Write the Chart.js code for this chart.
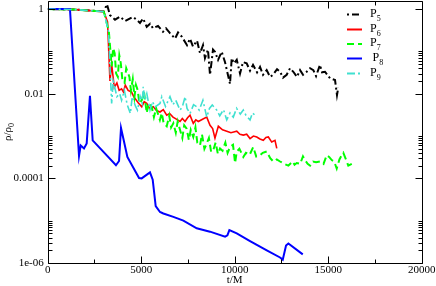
<!DOCTYPE html>
<html><head><meta charset="utf-8">
<script src="https://cdn.jsdelivr.net/npm/chart.js@4.4.0/dist/chart.umd.min.js"></script>
<style>html,body{margin:0;padding:0;background:#fff;}</style>
</head><body>
<canvas id="c" width="436" height="286"></canvas>
<script>
// ---- data: [t/M, rho/rho0] ----
const seriesNames = ['5', '6', '7', '8', '9'];
const p5 = [[0,1],[1500,0.97],[3000,0.88],[3170,1.3],[3330,0.72],[3600,0.56],[3865,0.66],[4135,0.52],[4560,0.65],[4775,0.55],[4935,0.47],[5100,0.60],[5295,0.38],[5475,0.45],[5630,0.35],[5900,0.40],[6165,0.29],[6325,0.35],[6540,0.27],[6810,0.20],[6970,0.28],[7180,0.22],[7450,0.14],[7610,0.20],[7770,0.13],[7985,0.18],[8145,0.091],[8305,0.14],[8410,0.069],[8570,0.11],[8680,0.028],[8840,0.11],[8945,0.098],[9110,0.063],[9305,0.098],[9480,0.056],[9750,0.017],[9840,0.069],[9965,0.052],[10110,0.063],[10285,0.030],[10445,0.056],[10640,0.052],[10820,0.035],[10980,0.048],[11195,0.032],[11355,0.043],[11515,0.028],[11710,0.036],[11890,0.025],[12050,0.028],[12265,0.038],[12425,0.033],[12585,0.024],[12780,0.028],[12960,0.040],[13135,0.033],[13330,0.025],[13495,0.036],[13655,0.028],[13850,0.033],[14030,0.040],[14205,0.036],[14350,0.026],[14560,0.048],[14670,0.032],[14830,0.033],[15100,0.023],[15365,0.021],[15470,0.0093],[15540,0.014]];
const p6 = [[0,1],[1500,0.97],[3000,0.87],[3200,0.5],[3330,0.02],[3420,0.05],[3560,0.014],[3700,0.018],[3820,0.012],[3950,0.013],[4050,0.011],[4150,0.016],[4300,0.012],[4480,0.011],[4600,0.0085],[4850,0.006],[5030,0.0049],[5160,0.0065],[5295,0.0059],[5450,0.0045],[5650,0.0049],[5820,0.004],[6005,0.0037],[6180,0.0042],[6365,0.0031],[6520,0.0034],[6700,0.0028],[6880,0.0025],[7075,0.0022],[7200,0.0026],[7345,0.0022],[7480,0.0027],[7610,0.0031],[7785,0.002],[7920,0.0024],[8055,0.0022],[8280,0.0025],[8505,0.0028],[8680,0.0018],[8820,0.0015],[8945,0.00089],[9125,0.0017],[9350,0.0014],[9575,0.0013],[9800,0.0012],[10110,0.0013],[10280,0.0011],[10460,0.00105],[10640,0.0011],[10820,0.00087],[11000,0.001],[11180,0.00095],[11350,0.00085],[11530,0.00079],[11670,0.00092],[11800,0.00095],[11980,0.00072],[12155,0.00079],[12250,0.00051]];
const p7 = [[0,1],[1500,0.97],[3000,0.87],[3270,0.3],[3420,0.044],[3500,0.12],[3580,0.091],[3660,0.03],[3750,0.025],[3830,0.08],[3910,0.052],[4000,0.02],[4110,0.018],[4200,0.04],[4370,0.025],[4450,0.012],[4550,0.022],[4640,0.0085],[4720,0.016],[4815,0.012],[4900,0.006],[5030,0.007],[5150,0.011],[5295,0.0035],[5400,0.006],[5560,0.0049],[5680,0.0028],[5800,0.0045],[6000,0.0024],[6100,0.0035],[6200,0.002],[6365,0.0017],[6500,0.003],[6600,0.0016],[6720,0.002],[6850,0.0012],[6950,0.0022],[7075,0.0014],[7200,0.0009],[7300,0.0018],[7430,0.0015],[7550,0.0008],[7650,0.0014],[7785,0.00095],[7900,0.0016],[8000,0.0007],[8145,0.0006],[8250,0.0011],[8380,0.0005],[8500,0.00066],[8620,0.0009],[8740,0.00042],[8860,0.00047],[8980,0.0007],[9100,0.00038],[9215,0.00051],[9350,0.00045],[9500,0.0007],[9620,0.0004],[9750,0.00055],[9910,0.00062],[10020,0.00023],[10110,0.00043],[10250,0.0005],[10460,0.00032],[10600,0.0004],[10800,0.00036],[10990,0.00055],[11150,0.00033],[11350,0.00035],[11500,0.0004],[11710,0.00043],[11900,0.0003],[12065,0.00025],[12250,0.00028],[12425,0.00025],[12650,0.00022],[12870,0.0002],[13100,0.00025],[13200,0.00021],[13315,0.00023],[13500,0.00022],[13650,0.00033],[13760,0.00027],[13900,0.00022],[14030,0.0002],[14190,0.00025],[14350,0.00024],[14560,0.00025],[14750,0.00022],[14920,0.00035],[15050,0.00032],[15190,0.00027],[15320,0.00025],[15455,0.00017],[15600,0.00028],[15720,0.00035],[15810,0.0004],[15950,0.00028],[16075,0.0002],[16260,0.00022]];
const p8 = [[0,1],[1190,1],[1675,3.4e-4],[1765,6.0e-4],[1941,5.1e-4],[2085,6.7e-4],[2260,8.9e-3],[2405,7.9e-4],[3650,2.04e-4],[3815,2.57e-4],[3920,1.55e-3],[4045,8.7e-4],[4260,3.2e-4],[4885,1.02e-4],[5025,1.0e-4],[5470,1.38e-4],[5615,9.3e-5],[5775,2.2e-5],[6005,1.6e-5],[6185,1.48e-5],[6720,1.23e-5],[7255,1.0e-5],[7970,6.6e-6],[8680,5.5e-6],[9485,4.2e-6],[9610,4.5e-6],[9715,6.0e-6],[10110,5.0e-6],[10820,3.3e-6],[11715,2.0e-6],[12425,1.35e-6],[12570,1.2e-6],[12745,2.6e-6],[12870,2.9e-6],[13640,1.6e-6]];
const p9 = [[0,1],[1500,0.97],[3000,0.87],[3250,0.3],[3420,0.0059],[3500,0.02],[3580,0.0145],[3700,0.0085],[3850,0.01],[3950,0.007],[4100,0.012],[4250,0.0055],[4420,0.0034],[4520,0.0085],[4700,0.005],[4800,0.0041],[4950,0.0085],[5050,0.006],[5110,0.0145],[5200,0.007],[5300,0.01],[5470,0.0041],[5600,0.0065],[5750,0.0049],[6005,0.0059],[6100,0.0085],[6300,0.005],[6540,0.0085],[6700,0.0055],[6850,0.007],[7075,0.0041],[7200,0.0049],[7350,0.0085],[7450,0.0045],[7610,0.0034],[7800,0.0055],[7970,0.0049],[8100,0.0041],[8300,0.007],[8505,0.0028],[8650,0.0045],[8800,0.0054],[9040,0.0041],[9200,0.003],[9400,0.0042],[9575,0.0024],[9750,0.0035],[9925,0.0028],[10100,0.0045],[10300,0.0033],[10460,0.0041],[10600,0.0031],[10820,0.0024],[10950,0.0035],[11085,0.0031]];
const xTicks = [0, 5000, 10000, 15000, 20000];
const xMinorTicks = [2500, 7500, 12500, 17500];
const yTicks = [1e-6, 1e-4, 1e-2, 1];
const yTickLabels = ['1e-06', '0.0001', '0.01', '1'];

const SERIF = '"Liberation Serif", "DejaVu Serif", serif';
const toXY = arr => arr.map(([x, y]) => ({x, y}));

const styles = [
  {color:'#000000', width:2, dash:[2,3,7,3]},
  {color:'#ff0000', width:1.6, dash:[]},
  {color:'#00ff00', width:2, dash:[7,4]},
  {color:'#0000ff', width:2, dash:[]},
  {color:'#40e0d0', width:1.6, dash:[8,3,2,3]}
];
const allData = [p5, p6, p7, p8, p9];
const datasets = allData.map((d, i) => ({
  label: 'P' + seriesNames[i],
  data: toXY(d),
  borderColor: styles[i].color,
  backgroundColor: styles[i].color,
  borderWidth: styles[i].width,
  borderDash: styles[i].dash,
  pointRadius: 0,
  tension: 0,
  fill: false,
  order: 5 - i
}));

const framePlugin = {
  id: 'frame',
  afterDraw(chart) {
    const ctx = chart.ctx;
    const {left, right, top, bottom} = chart.chartArea;
    const xs = chart.scales.x, ys = chart.scales.y;
    ctx.save();
    ctx.strokeStyle = '#000';
    ctx.lineWidth = 1;
    const L = Math.round(left) + 0.5, R = Math.round(right) + 0.5, T = Math.round(top) + 0.5, B = Math.round(bottom) + 0.5;
    ctx.beginPath();
    ctx.rect(L, T, R - L, B - T);
    xTicks.forEach(v => { const p = Math.round(xs.getPixelForValue(v)) + 0.5;
      ctx.moveTo(p, B); ctx.lineTo(p, B - 7); ctx.moveTo(p, T); ctx.lineTo(p, T + 7); });
    xMinorTicks.forEach(v => { const p = Math.round(xs.getPixelForValue(v)) + 0.5;
      ctx.moveTo(p, B); ctx.lineTo(p, B - 4); ctx.moveTo(p, T); ctx.lineTo(p, T + 4); });
    yTicks.forEach(v => { const p = Math.round(ys.getPixelForValue(v)) + 0.5;
      ctx.moveTo(L, p); ctx.lineTo(L + 7, p); ctx.moveTo(R, p); ctx.lineTo(R - 7, p); });
    [1e-6, 1e-4, 1e-2].forEach(base => { for (let k = 2; k <= 10; k++) {
      const p = Math.round(ys.getPixelForValue(base * k)) + 0.5;
      ctx.moveTo(L, p); ctx.lineTo(L + 4, p); ctx.moveTo(R, p); ctx.lineTo(R - 4, p); } });
    ctx.stroke();

    // y axis title with subscript
    ctx.fillStyle = '#000';
    ctx.translate(9, (top + bottom) / 2);
    ctx.rotate(-Math.PI / 2);
    const main = 'ρ/ρ';
    ctx.font = '11px ' + SERIF;
    const w1 = ctx.measureText(main).width;
    ctx.font = '8px ' + SERIF;
    const w2 = ctx.measureText('0').width;
    const x0 = -(w1 + w2) / 2;
    ctx.textBaseline = 'alphabetic';
    ctx.font = '11px ' + SERIF;
    ctx.fillText(main, x0, 2);
    ctx.font = '8px ' + SERIF;
    ctx.fillText('0', x0 + w1, 5);
    ctx.restore();

    // legend
    ctx.save();
    const ly = [14.5, 29.5, 44, 58.5, 73.5];
    const tx = [370, 370, 370, 372.5, 370];
    chart.data.datasets.forEach((ds, i) => {
      ctx.beginPath();
      ctx.strokeStyle = ds.borderColor;
      ctx.lineWidth = 2;
      ctx.setLineDash(ds.borderDash);
      ctx.moveTo(347, ly[i]); ctx.lineTo(362, ly[i]);
      ctx.stroke();
      ctx.setLineDash([]);
      ctx.fillStyle = '#000';
      ctx.textBaseline = 'alphabetic';
      ctx.font = '12px ' + SERIF;
      ctx.fillText('P', tx[i], ly[i] + 2);
      const pw = ctx.measureText('P').width;
      ctx.font = '8px ' + SERIF;
      ctx.fillText(seriesNames[i], tx[i] + pw, ly[i] + 6);
    });
    ctx.restore();
  }
};

new Chart(document.getElementById('c'), {
  type: 'line',
  data: {datasets},
  options: {
    responsive: false,
    animation: false,
    devicePixelRatio: 1,
    layout: {padding: {left: 0, right: 14.3, top: 1, bottom: 0}},
    plugins: {legend: {display: false}, tooltip: {enabled: false}},
    scales: {
      x: {
        type: 'linear', min: 0, max: 20000, bounds: 'data',
        grid: {display: false, drawTicks: false}, border: {display: false},
        ticks: {padding: 2, color: '#000', maxRotation: 0, font: {family: SERIF, size: 11, lineHeight: 1},
          callback: v => String(v)},
        title: {display: true, text: 't/M', color: '#000', padding: {top: 0, bottom: 0}, font: {family: SERIF, size: 11, lineHeight: 1}},
        afterBuildTicks: s => { s.ticks = xTicks.map(v => ({value: v})); },
        afterFit: s => { s.height = 23; s.paddingLeft = 0; s.paddingRight = 0; }
      },
      y: {
        type: 'logarithmic', min: 1e-6, max: 1.55, bounds: 'data',
        grid: {display: false, drawTicks: false}, border: {display: false},
        ticks: {padding: 4, color: '#000', font: {family: SERIF, size: 11, lineHeight: 1},
          callback: (v) => { const i = yTicks.findIndex(t => Math.abs(Math.log10(t) - Math.log10(v)) < 1e-6); return i >= 0 ? yTickLabels[i] : ''; }},
        afterBuildTicks: s => { s.ticks = yTicks.map(v => ({value: v})); },
        afterFit: s => { s.width = 47.7; s.paddingTop = 0; s.paddingBottom = 0; }
      }
    }
  },
  plugins: [framePlugin]
});
</script>
</body></html>
